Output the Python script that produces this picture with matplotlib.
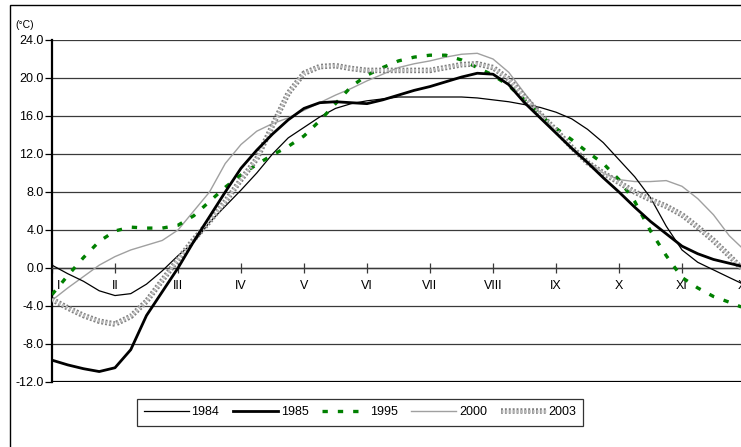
import matplotlib
matplotlib.use("Agg")
import matplotlib.pyplot as plt
from matplotlib.patches import Rectangle
import matplotlib.patheffects as pe
import numpy as np

plt.rcParams['font.family'] = ['Liberation Sans', 'DejaVu Sans']

# x positions in months (0 = I ... 11 = XII), read every quarter month
months = [i * 0.25 for i in range(44)] + [10.94]
month_labels = ["I", "II", "III", "IV", "V", "VI", "VII", "VIII", "IX", "X", "XI", "XII"]

t1984 = [0.3, -0.6, -1.4, -2.4, -2.9, -2.7, -1.7, -0.3, 1.3, 2.7, 4.8, 6.5,
         8.2, 10.0, 12.0, 13.7, 14.8, 15.9, 16.8, 17.3, 17.6, 17.8, 18.0, 18.0,
         18.0, 18.0, 18.0, 17.9, 17.7, 17.5, 17.2, 16.9, 16.4, 15.7, 14.6, 13.2,
         11.4, 9.6, 7.4, 4.4, 1.9, 0.6, -0.2, -1.0, -1.6]
t1985 = [-9.7, -10.2, -10.6, -10.9, -10.5, -8.6, -5.0, -2.5, 0.0, 2.8, 5.4, 8.0,
         10.5, 12.4, 14.1, 15.6, 16.8, 17.4, 17.5, 17.4, 17.3, 17.7, 18.2, 18.7,
         19.1, 19.6, 20.1, 20.5, 20.4, 19.3, 17.4, 15.8, 14.2, 12.6, 11.1, 9.5,
         8.0, 6.4, 4.9, 3.6, 2.3, 1.5, 0.9, 0.5, 0.2]
t1995 = [-2.8, -0.8, 1.1, 2.8, 3.9, 4.3, 4.2, 4.2, 4.5, 5.5, 7.0, 8.5,
         9.8, 10.9, 11.9, 12.8, 13.9, 15.5, 17.3, 19.1, 20.3, 21.1, 21.8, 22.2,
         22.4, 22.4, 21.9, 21.1, 20.3, 19.2, 17.7, 16.1, 14.7, 13.5, 12.2, 11.0,
         9.3, 7.0, 3.9, 1.3, -1.0, -2.1, -3.0, -3.6, -4.1]
t2000 = [-3.4, -2.1, -0.9, 0.3, 1.2, 1.9, 2.4, 2.9, 4.0, 6.0, 8.0, 11.0,
         13.0, 14.4, 15.2, 15.8, 16.6, 17.4, 18.2, 18.9, 19.7, 20.4, 21.1, 21.5,
         21.8, 22.2, 22.5, 22.6, 22.0, 20.6, 18.4, 16.3, 14.3, 12.5, 11.2, 10.0,
         9.3, 9.1, 9.1, 9.2, 8.6, 7.3, 5.6, 3.4, 2.2]
t2003 = [-3.3, -4.2, -5.0, -5.6, -5.9, -5.1, -3.5, -1.3, 0.9, 3.0, 4.9, 7.0,
         9.3, 11.5, 15.0, 18.4, 20.5, 21.2, 21.3, 21.0, 20.8, 20.8, 20.8, 20.8,
         20.8, 21.1, 21.4, 21.5, 21.1, 19.9, 18.0, 16.2, 14.5, 12.7, 11.1, 10.0,
         9.0, 8.0, 7.2, 6.5, 5.6, 4.3, 2.9, 1.3, 0.0]

W, H = 741, 447
fig = plt.figure(figsize=(W / 100, H / 100), dpi=100)
ax = fig.add_axes([52 / W, (H - 382) / H, (745 - 52) / W, (382 - 40) / H])

# outer chart frame (left and top visible, the rest runs off the picture)
fig.patches.append(Rectangle((10 / W, -0.1), 1.2, 1.1 - 5 / H, transform=fig.transFigure,
                             fill=False, edgecolor='black', lw=1.0))

ax.set_xlim(0, 11)
ax.set_ylim(-12, 24)
for v in np.arange(-8, 25, 4):
    ax.axhline(v, color='#3a3a3a', lw=0.9, zorder=1)

ax.plot(months, t2000, color='#a0a0a0', lw=1.0, label='2000', zorder=3)
ax.plot(months, t1984, color='black', lw=0.9, label='1984', zorder=3)
ax.plot(months, t1995, color='#008000', lw=2.4, dashes=(1.6, 3.0), label='1995', zorder=4)
ax.plot(months, t2003, color='#bdbdbd', lw=2.0, dashes=(0.7, 0.7), label='2003', zorder=5,
        path_effects=[pe.Stroke(linewidth=4.0, foreground='#808080'), pe.Normal()])
ax.plot(months, t1985, color='black', lw=2.0, label='1985', zorder=6)

# spines: left black, x axis on the zero line, bottom boundary at -12
for s in ['top', 'right']:
    ax.spines[s].set_visible(False)
ax.spines['left'].set_linewidth(1.6)
ax.spines['bottom'].set_position(('data', 0))
ax.spines['bottom'].set_color('#3a3a3a')
ax.spines['bottom'].set_linewidth(1.0)
ax.axhline(-12, color='black', lw=1.6, zorder=2)

ax.set_xticks(range(12))
ax.set_xticklabels([])
ax.tick_params(axis='x', direction='inout', length=7, width=0.9, color='#3a3a3a')
for i, lab in enumerate(month_labels):
    ax.text(i + (0.11 if i == 0 else 0), -1.9, lab, ha='center', va='center', fontsize=9)

ax.set_yticks(np.arange(-12, 25, 4))
ax.set_yticklabels([f"{v:.1f}" for v in np.arange(-12, 25, 4)], fontsize=9)
ax.tick_params(axis='y', direction='out', length=5, width=0.9, pad=1)

fig.text(15 / W, 1 - 25 / H, "(°C)", fontsize=7.5, va='center', ha='left')

handles, labels = ax.get_legend_handles_labels()
order = ['1984', '1985', '1995', '2000', '2003']
hmap = dict(zip(labels, handles))
leg = fig.legend([hmap[k] for k in order], order, loc='center', ncol=5,
                 bbox_to_anchor=((143 + 577) / 2 / W, 1 - 412 / H), fontsize=9,
                 frameon=True, fancybox=False, handlelength=3.6, handletextpad=0.2,
                 columnspacing=1.1, borderpad=0.6)
leg.get_frame().set_edgecolor('black')
leg.get_frame().set_linewidth(0.9)

fig.savefig("out.png", dpi=100)
